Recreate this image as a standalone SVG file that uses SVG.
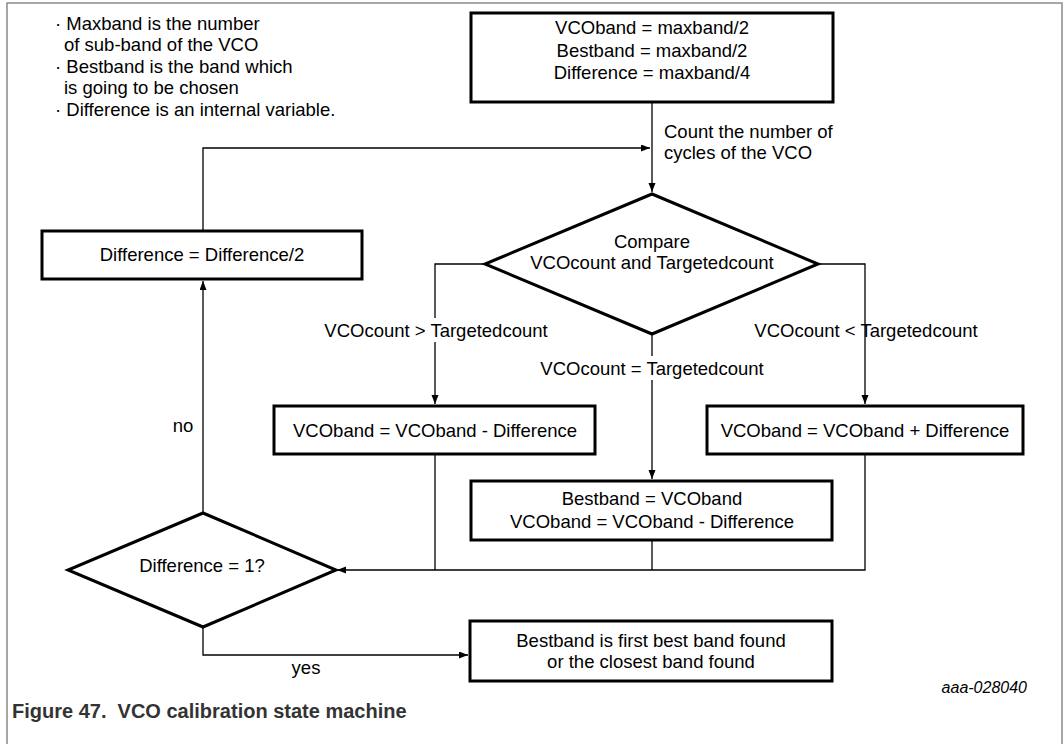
<svg xmlns="http://www.w3.org/2000/svg" width="1064" height="744" viewBox="0 0 1064 744">
<style>
text{font-family:"Liberation Sans",Arial,sans-serif;font-size:18.5px;fill:#000}
.c{text-anchor:middle}
.box{fill:#fff;stroke:#000;stroke-width:3}
.con{fill:none;stroke:#000;stroke-width:1.3}
.lbl{fill:#fff;stroke:none}
</style>
<defs>
<marker id="ah" markerUnits="userSpaceOnUse" markerWidth="10" markerHeight="8" refX="9" refY="3.5" orient="auto">
<path d="M0,0 L9,3.5 L0,7 z" fill="#000"/>
</marker>
</defs>
<rect width="1064" height="744" fill="#fff"/>
<polyline points="7,744 7,3 1062,3 1062,744" fill="none" stroke="#8a8a8a" stroke-width="1.5"/>

<g id="notes">
<text x="55" y="29.5">· Maxband is the number</text>
<text x="64" y="51">of sub-band of the VCO</text>
<text x="55" y="72.5">· Bestband is the band which</text>
<text x="64" y="94">is going to be chosen</text>
<text x="55" y="115.5">· Difference is an internal variable.</text>
</g>

<g id="connectors">
<line class="con" x1="652" y1="102" x2="652" y2="192" marker-end="url(#ah)"/>
<polyline class="con" points="203,231 203,148 650,148" marker-end="url(#ah)"/>
<polyline class="con" points="485,264 435,264 435,404" marker-end="url(#ah)"/>
<polyline class="con" points="818,264 865,264 865,404" marker-end="url(#ah)"/>
<line class="con" x1="652" y1="334" x2="652" y2="479" marker-end="url(#ah)"/>
<line class="con" x1="435" y1="454" x2="435" y2="570"/>
<line class="con" x1="652" y1="540" x2="652" y2="570"/>
<polyline class="con" points="865,454 865,570 337,570" marker-end="url(#ah)"/>
<line class="con" x1="203" y1="513" x2="203" y2="281" marker-end="url(#ah)"/>
<polyline class="con" points="203,627 203,655 468,655" marker-end="url(#ah)"/>
<rect class="lbl" x="322" y="318" width="230" height="24"/>
<text class="c" x="436" y="337">VCOcount &gt; Targetedcount</text>
<text class="c" x="866" y="337">VCOcount &lt; Targetedcount</text>
<rect class="lbl" x="536" y="356" width="232" height="24"/>
<text class="c" x="652" y="374.5">VCOcount = Targetedcount</text>
<text x="664" y="138">Count the number of</text>
<text x="664" y="159">cycles of the VCO</text>
<text class="c" x="183" y="432">no</text>
<text class="c" x="306" y="674">yes</text>
</g>

<g id="init">
<rect class="box" x="471" y="13" width="362" height="89"/>
<text class="c" x="652" y="34">VCOband = maxband/2</text>
<text class="c" x="652" y="56.5">Bestband = maxband/2</text>
<text class="c" x="652" y="79">Difference = maxband/4</text>
</g>

<g id="compare">
<polygon class="box" points="652,194 818,264 652,334 485,264"/>
<text class="c" x="652" y="248">Compare</text>
<text class="c" x="652" y="269">VCOcount and Targetedcount</text>
</g>

<g id="halve">
<rect class="box" x="42" y="231" width="320" height="48"/>
<text class="c" x="202" y="260.5">Difference = Difference/2</text>
</g>

<g id="minus">
<rect class="box" x="274" y="406" width="321" height="48"/>
<text class="c" x="435" y="436.5">VCOband = VCOband - Difference</text>
</g>

<g id="plus">
<rect class="box" x="707" y="406" width="316" height="48"/>
<text class="c" x="865" y="436.5">VCOband = VCOband + Difference</text>
</g>

<g id="equal">
<rect class="box" x="471" y="481" width="361" height="59"/>
<text class="c" x="652" y="505">Bestband = VCOband</text>
<text class="c" x="652" y="528">VCOband = VCOband - Difference</text>
</g>

<g id="check">
<polygon class="box" points="203,513 336,570 203,627 68,570"/>
<text class="c" x="202" y="571.5">Difference = 1?</text>
</g>

<g id="done">
<rect class="box" x="470" y="621" width="362" height="60"/>
<text class="c" x="651" y="646.5">Bestband is first best band found</text>
<text class="c" x="651" y="668">or the closest band found</text>
</g>

<text x="1027" y="693" style="font-style:italic;font-size:16px;text-anchor:end">aaa-028040</text>
<text x="12" y="718" style="font-weight:bold;font-size:20px;fill:#333">Figure 47.&#160; VCO calibration state machine</text>
</svg>
